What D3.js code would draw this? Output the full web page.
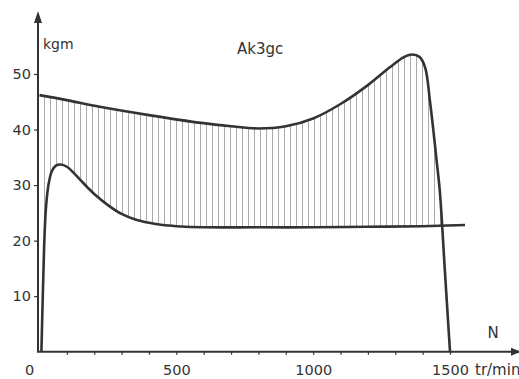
<!DOCTYPE html>
<html><head><meta charset="utf-8">
<script src="https://cdn.jsdelivr.net/npm/d3@7"></script>
<style>
html,body{margin:0;padding:0;background:#fff;}
svg{display:block;}
text{font-family:"DejaVu Sans",sans-serif;fill:#333;}
</style></head>
<body>
<svg id="chart" width="519" height="379"></svg>
<script>
// ---- data ----
const title = "Ak3gc";
const yUnit = "kgm";
const xName = "N";
const xUnit = "tr/min";
const yTicks = [10, 20, 30, 40, 50];
const xMinorTicks = [100,200,300,400,500,600,700,800,900,1000,1100,1200,1300,1400,1500];
const xTickLabels = [500, 1000, 1500];
const originLabel = "0";

// upper curve (max torque)
const upperN = [0, 100, 220, 400, 590, 700, 800, 900, 1000, 1100, 1200, 1280, 1330, 1360, 1390, 1410, 1427, 1440, 1452, 1463, 1482, 1500];
const upperT = [46.2, 45.3, 44.1, 42.6, 41.2, 40.6, 40.2, 40.6, 42.0, 44.6, 48.0, 51.2, 53.0, 53.5, 53.0, 51.0, 45.0, 39.5, 34.0, 28.8, 14.0, 0];
// lower curve
const lowerN = [7, 12, 17, 23, 32, 45, 60, 77, 100, 125, 150, 175, 200, 250, 300, 350, 400, 450, 500, 600, 800, 1000, 1200, 1400, 1555];
const lowerT = [0, 10, 19, 25.5, 29.8, 32.5, 33.5, 33.7, 33.3, 32.2, 30.9, 29.6, 28.4, 26.4, 24.8, 23.8, 23.2, 22.8, 22.6, 22.4, 22.4, 22.4, 22.5, 22.6, 22.8];

const upper = upperN.map((n,i)=>({n, t: upperT[i]}));
const lower = lowerN.map((n,i)=>({n, t: lowerT[i]}));

// ---- scales ----
const x = d3.scaleLinear().domain([0,1500]).range([39.5,450]);
const y = d3.scaleLinear().domain([0,50]).range([351.7,74]);
const axisX = 38;
const ink = "#333";

const svg = d3.select("#chart");
const defs = svg.append("defs");
const pat = defs.append("pattern").attr("id","hatch")
  .attr("patternUnits","userSpaceOnUse").attr("width",6).attr("height",10).attr("x",axisX);
pat.append("line").attr("x1",0.5).attr("x2",0.5).attr("y1",0).attr("y2",10)
  .attr("stroke","#aaaaaa").attr("stroke-width",1);

const curve = d3.curveCatmullRom.alpha(0.5);
const area = d3.area().x(d=>x(d.n)).y0(y(0)).y1(d=>y(d.t)).curve(curve);
const line = d3.line().x(d=>x(d.n)).y(d=>y(d.t)).curve(curve);

svg.append("path").datum(upper).attr("d",area).attr("fill","url(#hatch)");
svg.append("path").datum(lower).attr("d",area).attr("fill","#fff");

svg.append("path").datum(upper).attr("d",line).attr("fill","none")
  .attr("stroke",ink).attr("stroke-width",2.6).attr("stroke-linejoin","round");
svg.append("path").datum(lower).attr("d",line).attr("fill","none")
  .attr("stroke",ink).attr("stroke-width",2.6).attr("stroke-linejoin","round");

// ---- axes ----
const yAxis = d3.axisLeft(y).tickValues(yTicks).tickSize(4).tickPadding(3);
const gy = svg.append("g").attr("transform",`translate(${axisX},0)`).call(yAxis);
gy.select(".domain").remove();
gy.selectAll(".tick line").attr("stroke",ink).attr("stroke-width",1.2);
gy.selectAll(".tick text").attr("font-size","14.5px").attr("font-family","DejaVu Sans").attr("fill",ink);

const xAxis = d3.axisBottom(x).tickValues(xMinorTicks).tickSize(3).tickPadding(10)
  .tickFormat(d => xTickLabels.includes(d) ? d : "");
const gx = svg.append("g").attr("transform",`translate(0,${y(0)})`).call(xAxis);
gx.select(".domain").remove();
gx.selectAll(".tick line").attr("stroke",ink).attr("stroke-width",1.2);
gx.selectAll(".tick text").attr("font-size","14.5px").attr("font-family","DejaVu Sans").attr("fill",ink);

// axis lines with arrows
svg.append("line").attr("x1",axisX).attr("x2",axisX).attr("y1",y(0)).attr("y2",20)
  .attr("stroke",ink).attr("stroke-width",2);
svg.append("path").attr("d",`M${axisX},11 L${axisX-4},23 L${axisX+4},23 Z`).attr("fill",ink);
svg.append("line").attr("x1",axisX-1).attr("x2",519).attr("y1",y(0)).attr("y2",y(0))
  .attr("stroke",ink).attr("stroke-width",2);
svg.append("path").attr("d",`M521,${y(0)} L511,${y(0)-4} L511,${y(0)+4} Z`).attr("fill",ink);

// labels
svg.append("text").attr("x",29.5).attr("y",375).attr("text-anchor","middle")
  .attr("font-size","14.5px").text(originLabel);
svg.append("text").attr("x",43).attr("y",49).attr("font-size","14px").text(yUnit);
svg.append("text").attr("x",237).attr("y",54).attr("font-size","15px").text(title);
svg.append("text").attr("x",493).attr("y",338).attr("text-anchor","middle").attr("font-size","15px").text(xName);
svg.append("text").attr("x",475).attr("y",375).attr("font-size","15px").text(xUnit);
</script>
</body></html>
